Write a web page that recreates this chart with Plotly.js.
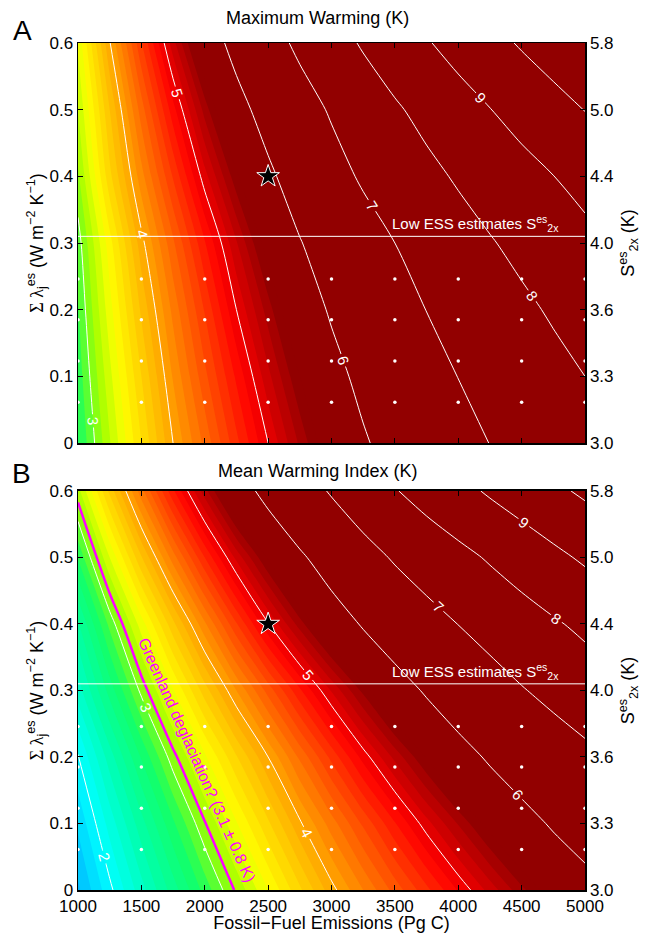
<!DOCTYPE html>
<html>
<head>
<meta charset="utf-8">
<script src="https://cdn.plot.ly/plotly-3.0.1.min.js"></script>
<style>html,body{margin:0;padding:0;background:#fff;}</style>
</head>
<body>
<div id="chart" style="width:649px;height:933px;"></div>
<script>
// ---- data ----
const emissions = [1000,1250,1500,1750,2000,2250,2500,2750,3000,3250,3500,3750,4000,4250,4500,4750,5000];
const lambdaSum = [0,0.1,0.2,0.3,0.4,0.5,0.6];

// Panel A: maximum warming (K), rows = lambdaSum, columns = emissions
const maxWarming = [
  [2.79,3.19,3.60,4.00,4.33,4.67,5.00,5.32,5.63,5.94,6.21,6.48,6.75,7.01,7.25,7.48,7.72],
  [2.84,3.27,3.70,4.11,4.47,4.82,5.17,5.50,5.83,6.14,6.43,6.72,7.01,7.26,7.50,7.75,8.00],
  [2.89,3.36,3.82,4.23,4.61,5.00,5.35,5.71,6.06,6.38,6.69,7.01,7.28,7.55,7.83,8.10,8.36],
  [2.95,3.46,3.96,4.38,4.79,5.19,5.58,5.97,6.32,6.66,7.00,7.31,7.63,7.94,8.22,8.50,8.78],
  [3.08,3.67,4.16,4.61,5.06,5.47,5.89,6.30,6.71,7.10,7.43,7.77,8.10,8.39,8.69,8.99,9.27],
  [3.20,3.80,4.35,4.86,5.34,5.80,6.24,6.66,7.08,7.49,7.89,8.26,8.62,8.98,9.33,9.67,10.02],
  [3.32,3.99,4.59,5.16,5.68,6.19,6.68,7.16,7.63,8.09,8.51,8.93,9.33,9.71,10.09,10.45,10.80]
];

// Panel B: mean warming index (K)
const meanWarming = [
  [1.68,1.97,2.26,2.55,2.84,3.12,3.40,3.68,3.96,4.20,4.44,4.67,4.91,5.14,5.37,5.59,5.81],
  [1.82,2.14,2.46,2.78,3.09,3.39,3.68,3.98,4.25,4.52,4.79,5.06,5.31,5.56,5.81,6.06,6.28],
  [1.99,2.35,2.71,3.06,3.38,3.69,4.00,4.32,4.63,4.94,5.23,5.51,5.79,6.07,6.32,6.56,6.81],
  [2.25,2.64,3.03,3.39,3.75,4.10,4.44,4.78,5.11,5.43,5.75,6.06,6.36,6.65,6.95,7.22,7.49],
  [2.48,2.93,3.35,3.77,4.18,4.59,4.99,5.35,5.70,6.05,6.37,6.69,7.01,7.31,7.60,7.90,8.19],
  [2.81,3.30,3.79,4.25,4.70,5.13,5.52,5.91,6.30,6.70,7.08,7.42,7.75,8.09,8.44,8.79,9.13],
  [3.16,3.73,4.26,4.78,5.26,5.73,6.18,6.62,7.07,7.51,7.95,8.35,8.73,9.11,9.46,9.81,10.15]
];

const greenlandThreshold = 3.1;           // K
const lowEssLambda = 0.31;                 // horizontal reference line
const starX = [2500], starY = [0.4];       // star marker
const dotEmissions = [1000,1500,2000,2500,3000,3500,4000,4500,5000];
const dotLambda = [0.061,0.123,0.185,0.246];

const xTicks = [1000,1500,2000,2500,3000,3500,4000,4500,5000];
const xTickLabels = ['1000','1500','2000','2500','3000','3500','4000','4500','5000'];
const yTicks = [0,0.1,0.2,0.3,0.4,0.5,0.6];
const yTickLabels = ['0','0.1','0.2','0.3','0.4','0.5','0.6'];
const rightTickLabels = ['3.0','3.3','3.6','4.0','4.4','5.0','5.8'];

// ---- styling ----
const FONT = 'Liberation Sans, Arial, Helvetica, sans-serif';
const LEV_START = 0, LEV_END = 5.5, LEV_SIZE = 0.1;
const C_LO = LEV_START - LEV_SIZE/2, C_HI = LEV_END + LEV_SIZE/2;
const colourStops = [
  [C_LO,'rgb(0,0,143)'],[0.7,'rgb(0,0,255)'],[1.7,'rgb(0,190,255)'],[2.0,'rgb(0,255,255)'],
  [2.4,'rgb(0,255,170)'],[2.8,'rgb(20,255,100)'],[3.1,'rgb(160,255,0)'],[3.4,'rgb(255,255,0)'],
  [4.0,'rgb(255,165,0)'],[4.5,'rgb(255,75,0)'],[4.9,'rgb(255,0,0)'],[5.45,'rgb(146,0,0)'],[C_HI,'rgb(146,0,0)']
];
const colourscale = colourStops.map(s => [Math.min(1, Math.max(0, (s[0]-C_LO)/(C_HI-C_LO))), s[1]]);
const SMOOTH = 0.85;

const dotsX = [], dotsY = [];
dotEmissions.forEach(x => dotLambda.forEach(y => { dotsX.push(x); dotsY.push(y); }));

function panelTraces(z, xa, ya, yaRight, withGreenland) {
  const t = [];
  t.push({type:'contour', x:emissions, y:lambdaSum, z:z, xaxis:xa, yaxis:ya,
    colorscale:colourscale, showscale:false, hoverinfo:'skip',
    contours:{coloring:'fill', start:LEV_START, end:LEV_END, size:LEV_SIZE, showlines:false},
    line:{width:0, smoothing:SMOOTH}});
  t.push({type:'contour', x:emissions, y:lambdaSum, z:z, xaxis:xa, yaxis:ya,
    showscale:false, hoverinfo:'skip',
    contours:{coloring:'none', start:1, end:11, size:1, showlabels:true,
      labelfont:{family:FONT, size:15, color:'white'}},
    line:{color:'white', width:1, smoothing:SMOOTH}});
  if (withGreenland) {
    t.push({type:'contour', x:emissions, y:lambdaSum, z:z, xaxis:xa, yaxis:ya,
      showscale:false, hoverinfo:'skip',
      contours:{coloring:'none', start:greenlandThreshold, end:greenlandThreshold, size:1},
      line:{color:'#ff00ff', width:2.5, smoothing:SMOOTH}});
  }
  t.push({type:'scatter', mode:'markers', x:dotsX, y:dotsY, xaxis:xa, yaxis:ya,
    marker:{color:'white', size:3.5}, hoverinfo:'skip', cliponaxis:true});
  t.push({type:'scatter', mode:'markers', x:starX, y:starY, xaxis:xa, yaxis:ya,
    marker:{symbol:'star', color:'black', size:17, line:{color:'white', width:1}},
    hoverinfo:'skip'});
  // invisible trace so the right-hand axis is drawn
  t.push({type:'scatter', mode:'markers', x:starX, y:starY, xaxis:xa, yaxis:yaRight,
    marker:{opacity:0}, hoverinfo:'skip'});
  return t;
}

const data = [].concat(panelTraces(maxWarming,'x','y','y2',false), panelTraces(meanWarming,'x2','y3','y4',true));

const axLine = {showline:true, linecolor:'black', linewidth:1.5, showgrid:false, zeroline:false,
                ticks:'inside', ticklen:5, tickwidth:1, tickcolor:'black',
                tickfont:{family:FONT, size:17, color:'black'}};
const yTitle = {text:'<span style="font-family:Liberation Serif">Σ λ</span><sub>j</sub><sup>es</sup> (W m<sup>−2</sup> K<sup>−1</sup>)',
                font:{family:FONT, size:18, color:'black'}, standoff:0};
const rTitle = {text:'S<sup>es</sup><sub>2x</sub> (K)', font:{family:FONT, size:18, color:'black'}, standoff:9};

const domA = [0.5277, 1], domB = [0, 0.4711];

const layout = {
  width:649, height:933,
  margin:{l:78, r:64, t:43, b:43},
  paper_bgcolor:'white', plot_bgcolor:'white',
  font:{family:FONT, size:17, color:'black'},
  showlegend:false,
  xaxis: Object.assign({}, axLine, {domain:[0,1], anchor:'y', range:[1000,5000],
          tickvals:xTicks, ticktext:xTickLabels, showticklabels:false, mirror:'ticks'}),
  yaxis: Object.assign({}, axLine, {domain:domA, anchor:'x', range:[0,0.6],
          tickvals:yTicks, ticktext:yTickLabels, mirror:true, title:yTitle}),
  yaxis2: Object.assign({}, axLine, {overlaying:'y', side:'right', anchor:'x', range:[0,0.6],
          tickvals:yTicks, ticktext:rightTickLabels, title:rTitle}),
  xaxis2: Object.assign({}, axLine, {domain:[0,1], anchor:'y3', range:[1000,5000],
          tickvals:xTicks, ticktext:xTickLabels, mirror:'ticks',
          title:{text:'Fossil−Fuel Emissions (Pg C)', font:{family:FONT, size:18, color:'black'}, standoff:3}}),
  yaxis3: Object.assign({}, axLine, {domain:domB, anchor:'x2', range:[0,0.6],
          tickvals:yTicks, ticktext:yTickLabels, mirror:true, title:yTitle}),
  yaxis4: Object.assign({}, axLine, {overlaying:'y3', side:'right', anchor:'x2', range:[0,0.6],
          tickvals:yTicks, ticktext:rightTickLabels, title:rTitle}),
  shapes:[
    {type:'line', xref:'x domain', yref:'y', x0:0, x1:1, y0:lowEssLambda, y1:lowEssLambda, line:{color:'white', width:1}},
    {type:'line', xref:'x2 domain', yref:'y3', x0:0, x1:1, y0:lowEssLambda, y1:lowEssLambda, line:{color:'white', width:1}}
  ],
  annotations:[
    {xref:'paper', yref:'paper', x:-0.110, y:1.0153, text:'A', showarrow:false, font:{family:FONT, size:28, color:'black'}, xanchor:'center', yanchor:'middle'},
    {xref:'paper', yref:'paper', x:-0.112, y:0.4923, text:'B', showarrow:false, font:{family:FONT, size:28, color:'black'}, xanchor:'center', yanchor:'middle'},
    {xref:'paper', yref:'paper', x:0.473, y:1.0295, text:'Maximum Warming (K)', showarrow:false, font:{family:FONT, size:18, color:'black'}, xanchor:'center', yanchor:'middle'},
    {xref:'paper', yref:'paper', x:0.473, y:0.4947, text:'Mean Warming Index (K)', showarrow:false, font:{family:FONT, size:18, color:'black'}, xanchor:'center', yanchor:'middle'},
    {xref:'x', yref:'y', x:4810, y:lowEssLambda, text:'Low ESS estimates S<sup>es</sup><sub>2x</sub>', showarrow:false, font:{family:FONT, size:15, color:'white'}, xanchor:'right', yanchor:'bottom'},
    {xref:'x2', yref:'y3', x:4810, y:lowEssLambda, text:'Low ESS estimates S<sup>es</sup><sub>2x</sub>', showarrow:false, font:{family:FONT, size:15, color:'white'}, xanchor:'right', yanchor:'bottom'},
    {xref:'x2', yref:'y3', x:1941, y:0.195, text:'Greenland deglaciation? (3.1 ± 0.8 K)', showarrow:false, textangle:66, font:{family:FONT, size:16, color:'#ff00ff'}, xanchor:'center', yanchor:'middle'}
  ]
};

Plotly.newPlot('chart', data, layout, {displayModeBar:false, staticPlot:true});
</script>
</body>
</html>
